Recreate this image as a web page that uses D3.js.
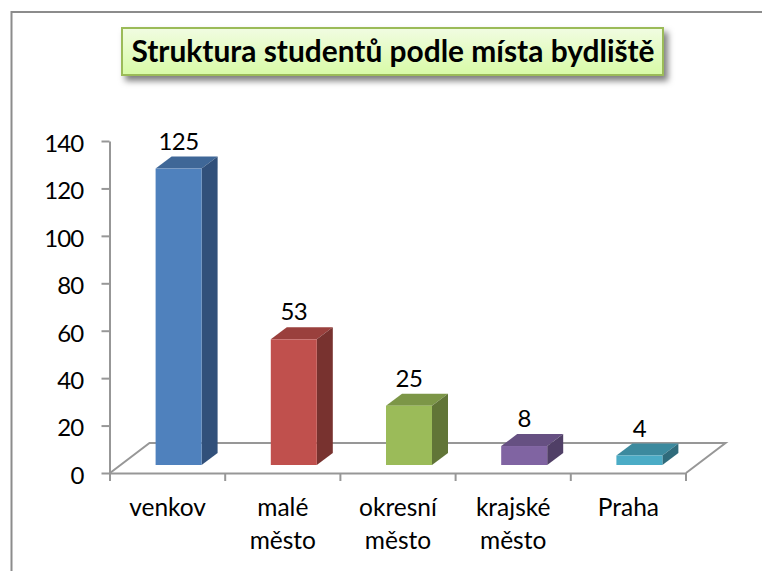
<!DOCTYPE html>
<html><head><meta charset="utf-8">
<script src="https://cdnjs.cloudflare.com/ajax/libs/d3/7.8.5/d3.min.js"></script>
<style>html,body{margin:0;padding:0;background:#fff}svg{display:block}text{font-family:Lato,Carlito,sans-serif;fill:#000}</style>
</head><body><svg id="c" width="762" height="571"></svg>
<script>
const titleText = "Struktura studentů podle místa bydliště";
const categories = ["venkov","malé město","okresní město","krajské město","Praha"];
const values = [125,53,25,8,4];
const frontColors = ["#4f81bd","#c0504d","#9bbb59","#8064a2","#4bacc6"];
const topColors = ["#3f6797","#9a403d","#7c9647","#665082","#3c8a9e"];
const sideColors = ["#31507a","#78322f","#617537","#503f66","#2f6b7b"];
const yTicks = [0,20,40,60,80,100,120,140];

const W=762,H=571, axisGrey="#979797";
const svg=d3.select("#c");
const defs=svg.append("defs");
const grad=defs.append("linearGradient").attr("id","tg").attr("x1",0).attr("y1",0).attr("x2",0).attr("y2",1);
grad.append("stop").attr("offset",0).attr("stop-color","#f1fce2");
grad.append("stop").attr("offset",1).attr("stop-color","#d8fba6");
const fl=defs.append("filter").attr("id","sh").attr("x","-5%").attr("y","-20%").attr("width","110%").attr("height","150%");
fl.append("feDropShadow").attr("dx",4).attr("dy",5).attr("stdDeviation",3).attr("flood-color","#000").attr("flood-opacity",.5);

// outer frame: left and top edges only are visible in the crop
svg.append("path").attr("d","M11.5,571V12H762").attr("fill","none").attr("stroke","#8c8c8c").attr("stroke-width",2);

// title
svg.append("rect").attr("x",122).attr("y",28).attr("width",541).attr("height",47)
 .attr("fill","url(#tg)").attr("stroke","#9bbb59").attr("stroke-width",2).attr("filter","url(#sh)");
svg.append("text").attr("x",393).attr("y",62).attr("text-anchor","middle")
 .attr("font-size",29.9).attr("font-weight",700).text(titleText);

const y=d3.scaleLinear().domain([0,140]).range([473,141]);
const x=d3.scaleBand().domain(categories).range([110,686]).paddingInner(0).paddingOuter(0);
const depthX=39.5, depthY=30;           // floor depth
const barDX=16, barDY=12, barW=46;      // bar depth
const inset=8;                          // bar baseline above front floor edge

// floor
const y0=y(0), xL=x.range()[0], xR=x.range()[1];
svg.append("path").attr("d",`M${xL},${y0}L${xL+depthX},${y0-depthY}H${xR+depthX}L${xR},${y0}`)
 .attr("fill","none").attr("stroke",axisGrey).attr("stroke-width",2);

// bars
const data=categories.map((c,i)=>({c,v:values[i],i}));
const bars=svg.append("g").selectAll("g").data(data).join("g");
const bx=d=>x(d.c)+x.bandwidth()/2-barW/2+11;
const by=d=>y(d.v)-inset, bb=()=>y0-inset;
bars.append("path").attr("fill",d=>topColors[d.i])
 .attr("d",d=>`M${bx(d)},${by(d)}l${barDX},${-barDY}h${barW}l${-barDX},${barDY}z`);
bars.append("path").attr("fill",d=>sideColors[d.i])
 .attr("d",d=>`M${bx(d)+barW},${by(d)}l${barDX},${-barDY}V${bb()-barDY}l${-barDX},${barDY}z`);
bars.append("rect").attr("fill",d=>frontColors[d.i])
 .attr("x",bx).attr("y",by).attr("width",barW).attr("height",d=>bb()-by(d));
bars.append("text").attr("x",d=>bx(d)+barW/2).attr("y",d=>by(d)-barDY-7)
 .attr("text-anchor","middle").attr("font-size",24).attr("letter-spacing",-0.5).text(d=>d.v);

// y axis
const ya=svg.append("g").attr("transform","translate(109.5,0)")
 .call(d3.axisLeft(y).tickValues(yTicks).tickSize(8).tickPadding(18).tickSizeOuter(0));
ya.selectAll("path,line").attr("stroke",axisGrey).attr("stroke-width",2);
ya.selectAll("text").attr("font-size",24).attr("font-family","Lato").attr("fill","#000")
 .attr("letter-spacing",-0.8).attr("dy","0.43em");

// x axis
const xa=svg.append("g").attr("transform",`translate(0,${y0})`)
 .call(d3.axisBottom(x).tickSize(0).tickFormat(""));
xa.select("path").attr("stroke",axisGrey).attr("stroke-width",2);
xa.selectAll(".tick").remove();
const edges=d3.range(categories.length+1).map(i=>xL+i*x.step());
svg.append("g").selectAll("line").data(edges).join("line")
 .attr("x1",d=>d).attr("x2",d=>d).attr("y1",y0).attr("y2",y0+8)
 .attr("stroke",axisGrey).attr("stroke-width",2);
const labs=svg.append("g").selectAll("text").data(categories).join("text")
 .attr("text-anchor","middle").attr("font-size",24.5);
labs.each(function(c){
  const t=d3.select(this), cx=x(c)+x.bandwidth()/2;
  c.split(" ").forEach((w,i)=>t.append("tspan").attr("x",cx).attr("y",516+i*33).text(w));
});
</script></body></html>
